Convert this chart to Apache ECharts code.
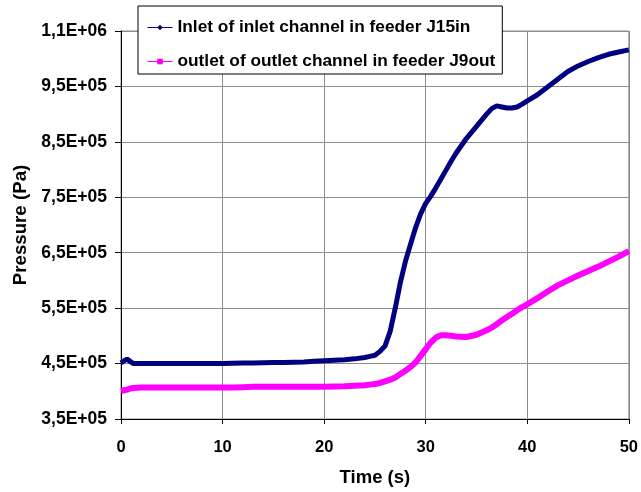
<!DOCTYPE html>
<html>
<head>
<meta charset="utf-8">
<script src="https://cdn.jsdelivr.net/npm/echarts@6/dist/echarts.min.js"></script>
<style>html,body{margin:0;padding:0;background:#fff;}#c{width:641px;height:492px;}</style>
</head>
<body>
<div id="c"></div>
<script>
// Time (s)
var time = [0, 0.3, 0.6, 0.9, 1.2, 2, 3, 4, 5, 6, 7, 8, 9, 10, 11, 12, 13, 14, 15, 16, 17, 18, 19, 20,
  21, 22, 23, 24, 24.5, 25, 25.5, 26, 26.5, 27, 27.5, 28, 28.5, 29, 29.5, 30, 30.5, 31, 31.5, 32, 32.5, 33,
  34, 35, 36, 36.5, 37, 37.5, 38, 38.5, 39, 39.5, 40, 41, 42, 43, 44, 45, 46, 47, 48, 49, 50];
// Inlet of inlet channel in feeder J15in (Pa)
var inletJ15 = [451000, 455000, 458000, 454000, 450000, 450000, 450000, 450000, 450000, 450000, 450000, 450000, 450000, 450000,
  450500, 451000, 451000, 451500, 452000, 452000, 452500, 453000, 454000, 455000,
  456000, 457000, 458500, 461000, 463000, 465000, 472000, 482000, 508000, 550000, 596000, 634000, 665000, 695000, 720000, 739000, 752000,
  767000, 783000, 799000, 815000, 830000,
  856000, 878000, 900000, 910000, 915000, 913000, 911000, 911000, 913000, 918000, 924000, 935000, 949000, 963000, 977000, 987000, 995000, 1002000, 1008000, 1012000, 1016000];
// outlet of outlet channel in feeder J9out (Pa)
var outletJ9 = [401000, 402000, 403000, 405000, 406000, 407000, 407000, 407000, 407000, 407000, 407000, 407000, 407000, 407000,
  407000, 407500, 408000, 408000, 408000, 408000, 408000, 408000, 408000, 408000,
  408500, 409000, 410000, 411000, 412000, 413000, 415000, 418000, 421000, 425000, 431000, 437000, 444000, 452000, 464000, 476000, 488000,
  497000, 501000, 501000, 500000, 499000,
  498000, 502000, 510000, 515000, 521000, 528000, 534000, 540000, 546000, 552000, 557000, 568000, 580000, 591000, 600000, 609000, 617000, 625000, 634000, 643000, 653000];
var seriesNames = ['Inlet of inlet channel in feeder J15in', 'outlet of outlet channel in feeder J9out'];
var xTicks = [0, 10, 20, 30, 40, 50];
var yTickLabels = ['3,5E+05', '4,5E+05', '5,5E+05', '6,5E+05', '7,5E+05', '8,5E+05', '9,5E+05', '1,1E+06'];
var yMin = 350000, yMax = 1050000, yStep = 100000;

function pairs(ys) { return time.map(function (t, i) { return [t, ys[i]]; }); }
var FONT = 'Arial, "Liberation Sans", sans-serif';
var chart = echarts.init(document.getElementById('c'), null, { renderer: 'canvas' });
chart.setOption({
  backgroundColor: '#ffffff',
  animation: false,
  grid: { left: 121, right: 8, top: 31, bottom: 69, show: true, borderColor: '#8c8c8c', borderWidth: 1 },
  legend: {
    orient: 'vertical', left: 138, top: 6,
    padding: [13, 7, 4, 9], itemGap: 17, itemWidth: 25, itemHeight: 7,
    backgroundColor: '#ffffff', borderColor: '#000000', borderWidth: 1,
    textStyle: { fontFamily: FONT, fontSize: 17.3, fontWeight: 'bold', color: '#000' },
    data: [
      { name: seriesNames[0], lineStyle: { width: 1 } },
      { name: seriesNames[1], lineStyle: { width: 1 } }
    ]
  },
  xAxis: {
    type: 'value', min: xTicks[0], max: xTicks[xTicks.length - 1], interval: 10,
    name: 'Time (s)', nameLocation: 'middle', nameGap: 49,
    nameTextStyle: { fontFamily: FONT, fontSize: 18.5, fontWeight: 'bold', color: '#000' },
    axisLine: { onZero: false, lineStyle: { color: '#000', width: 1 } },
    axisTick: { inside: false, length: 5, lineStyle: { color: '#000' } },
    axisLabel: { margin: 20, fontFamily: FONT, fontSize: 16.5, fontWeight: 'bold', color: '#000' },
    splitLine: { show: true, lineStyle: { color: '#8c8c8c', width: 1 } }
  },
  yAxis: {
    type: 'value', min: yMin, max: yMax, interval: yStep,
    name: 'Pressure (Pa)', nameLocation: 'middle', nameGap: 88,
    nameTextStyle: { fontFamily: FONT, fontSize: 18.7, fontWeight: 'bold', color: '#000' },
    axisLine: { show: true, lineStyle: { color: '#000', width: 1 } },
    axisTick: { show: true, inside: false, length: 6, lineStyle: { color: '#000' } },
    axisLabel: {
      margin: 14, fontFamily: FONT, fontSize: 17.5, fontWeight: 'bold', color: '#000',
      formatter: function (v) { return yTickLabels[Math.round((v - yMin) / yStep)] || ''; }
    },
    splitLine: { show: true, lineStyle: { color: '#8c8c8c', width: 1 } }
  },
  series: [
    {
      name: seriesNames[0], type: 'line', data: pairs(inletJ15),
      symbol: 'diamond', symbolSize: 7, showSymbol: false,
      lineStyle: { color: '#000080', width: 5 }, itemStyle: { color: '#000080' }, z: 3
    },
    {
      name: seriesNames[1], type: 'line', data: pairs(outletJ9),
      symbol: 'rect', symbolSize: 6, showSymbol: false,
      lineStyle: { color: '#ff00ff', width: 6 }, itemStyle: { color: '#ff00ff' }, z: 2
    }
  ]
});
</script>
</body>
</html>
